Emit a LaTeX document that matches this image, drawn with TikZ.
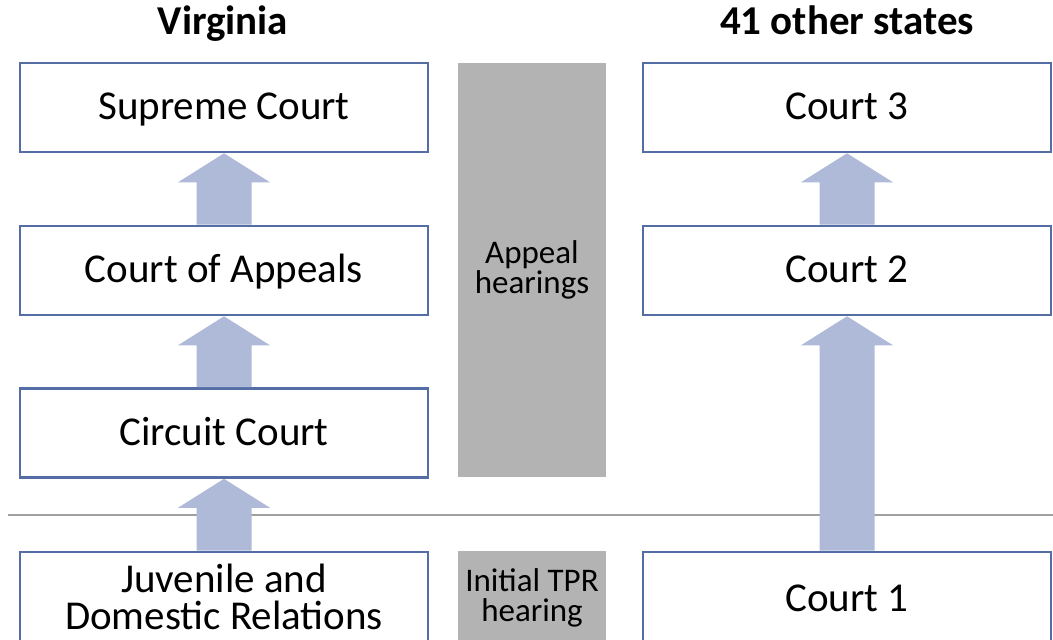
\documentclass[tikz,border=0pt]{standalone}
\usepackage{fontspec}
\setmainfont{Carlito}
\usetikzlibrary{calc}
\definecolor{boxline}{RGB}{84,110,165}
\definecolor{arrowfill}{RGB}{174,186,216}
\definecolor{panelgray}{RGB}{179,179,179}
\definecolor{rulegray}{RGB}{160,160,160}
\newcommand\courtarrow[2]{%
  \fill[arrowfill] ($(#1.north)+(-27.5,0)$) -- ($(#2.south)+(-27.5,29)$)
    -- ($(#2.south)+(-46,29)$) -- (#2.south) -- ($(#2.south)+(46,29)$)
    -- ($(#2.south)+(27.5,29)$) -- ($(#1.north)+(27.5,0)$) -- cycle;}
\begin{document}
\begin{tikzpicture}[x=0.5pt,y=-0.5pt,
  court/.style={draw=boxline, line width=1.3pt, fill=white, minimum width=204pt,
    minimum height=44.5pt, inner sep=0pt, font=\fontsize{20.5}{24}\selectfont,
    text height=13pt, text depth=1pt},
  lowcourt/.style={court, minimum height=47.5pt},
  panel/.style={fill=panelgray, minimum width=74pt, inner sep=0pt, align=center,
    font=\fontsize{16.5}{15}\selectfont},
  heading/.style={font=\bfseries\fontsize{20.5}{24}\selectfont, anchor=base}]
\useasboundingbox (0,0) rectangle (1053,640);
\clip (0,0) rectangle (1053,640);
% separator
\draw[rulegray, line width=0.8pt] (8,515) -- (1053,515);
% grey panels
\node[panel, minimum height=207pt] (appeal) at (532,270) {Appeal\\hearings};
\node[panel, minimum height=47pt] (initial) at (532,598) {Initial TPR\\hearing};
% Virginia column
\node[court] (sc) at (224,107.5) {Supreme Court};
\node[court] (ca) at (224,270.5) {Court of Appeals};
\node[court] (cc) at (224,433) {Circuit Court};
\node[lowcourt, text height=, text depth=, align=center,
  font=\fontsize{20.5}{18.5}\selectfont] (jdr) at (224,599.5)
  {\raisebox{3pt}{Juvenile and}\\\raisebox{3pt}{Domestic Relations}};
% other states column
\node[court] (c3) at (847,107.5) {Court 3};
\node[court] (c2) at (847,270.5) {Court 2};
\node[lowcourt] (c1) at (847,599.5) {Court 1};
% arrows
\courtarrow{ca}{sc}
\courtarrow{cc}{ca}
\courtarrow{jdr}{cc}
\courtarrow{c2}{c3}
\courtarrow{c1}{c2}
% headings
\node[heading] (hva) at (223,35) {Virginia};
\node[heading] (hos) at (847,35) {41 other states};
\end{tikzpicture}
\end{document}
